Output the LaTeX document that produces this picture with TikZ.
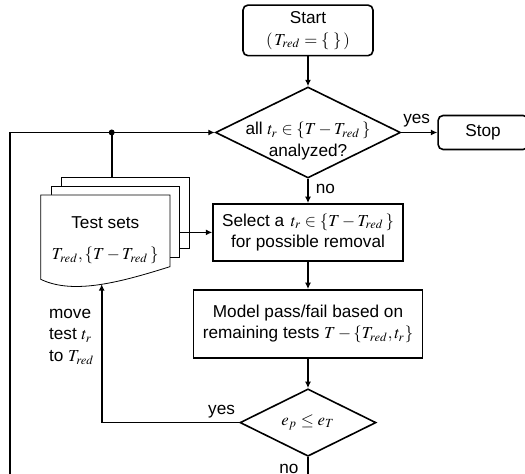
\documentclass[tikz,border=0pt]{standalone}
\usepackage{mathptmx}
\usepackage[no-math]{fontspec}
\setmainfont{Liberation Sans}
\usetikzlibrary{positioning,arrows.meta,shapes.geometric,backgrounds}
\newcommand{\mth}[1]{{\fontsize{8.4}{10.8}\selectfont$\medmuskip=2.5mu\thickmuskip=4mu #1$}}

\begin{document}
\begin{tikzpicture}[
    x=1pt, y=1pt,
    font=\fontsize{8.6}{10.8}\selectfont,
    line width=0.8pt,
    box/.style={draw, align=center, inner sep=0pt},
    term/.style={box, rounded corners=2.5pt},
    decision/.style={draw, diamond, aspect=2, inner sep=0pt},
    page/.style={draw, fill=white, minimum width=63.8pt, minimum height=35.5pt, inner sep=0pt},
    lbl/.style={inner sep=0pt},
    arr/.style={-{Latex[length=3.2pt,width=3pt]}}
]
\useasboundingbox (0,0) rectangle (262.5,-237);

\node[decision, minimum width=92.5pt, minimum height=45.5pt] (check) at (154,-66.25) {};
\node[align=center, inner sep=0pt] (checktxt) at ([yshift=-4.2pt]check.center) {all \mth{t_r\in\{T-T_{red}\,\}}\\analyzed?};
\node[term, minimum width=65pt, minimum height=25.3pt, above=14.85pt of check] (start) {Start\\\mth{(\,T_{red}=\{\;\}\,)}};
\node[term, minimum width=45pt, minimum height=17pt, right=18pt of check] (stop) {Stop};
\node[box, minimum width=95pt, minimum height=28.5pt, below=12.15pt of check] (select) {Select a \mth{\,t_r\in\{T-T_{red}\,\}}\\for possible removal};
\node[box, minimum width=114.5pt, minimum height=34pt, below=13.7pt of select] (model) {Model pass/fail based on\\remaining tests \mth{T-\{T_{red},t_r\}}};
\node[decision, minimum width=68pt, minimum height=33.7pt, below=14.7pt of model] (check2) {\mth{e_p\le e_T}};

% stack of test sets
\node[align=center, inner sep=0pt, minimum width=63.8pt, minimum height=44.5pt, anchor=north west] (tests) at (20.35,-97.5) {Test sets\\[5pt]\mth{T_{red},\{T-T_{red}\,\}}};
\begin{scope}[on background layer]
  \node[page, anchor=north west] (page3) at ([shift={(10.15,9.15)}]tests.north west) {};
  \node[page, anchor=north west] (page2) at ([shift={(5.15,4.65)}]tests.north west) {};
  \draw[fill=white] (tests.north west) -- (tests.north east) -- ([yshift=-35.85pt]tests.north east)
    .. controls +(-24,-7.5) and +(16.5,-8) .. ([yshift=-42.15pt]tests.north west) -- cycle;
\end{scope}

\node[lbl, anchor=base west] (yes1) at ([shift={(0.6,4.5)}]check.east) {yes};
\node[lbl, anchor=base west] (no1) at ([shift={(3.5,-7.2)}]check.south) {no};
\node[lbl, anchor=base east] (yes2) at ([shift={(-1.7,4)}]check2.west) {yes};
\node[lbl, anchor=base east] (no2) at ([shift={(-4.35,-8.15)}]check2.south) {no};
\node[lbl, align=left, anchor=west] (movelbl) at (24.15,-168.3) {move\\test \mth{t_r}\\to \mth{T_{red}}};

\coordinate (junction) at (55.85,-66.25);
\coordinate (loopleft) at (5,-66.25);
\coordinate (loopbottom) at (check2.south |- 0,-250);
\coordinate (wavept) at (50.85,-142.1);

\draw[arr] (start) -- (check);
\draw[arr] (check) -- (stop);
\draw[arr] (check) -- (select);
\draw[arr] (select) -- (model);
\draw[arr] (model) -- (check2);
\draw[arr] (check2.west) -| (wavept);
\draw[arr] (check2.south) -- (loopbottom) -| (loopleft) -- (check.west);
\fill (junction) circle (1.5pt);
\draw (junction) -- (junction |- page3.north);
\draw[arr] (select.west -| page2.east) -- (select.west);
\end{tikzpicture}
\end{document}
